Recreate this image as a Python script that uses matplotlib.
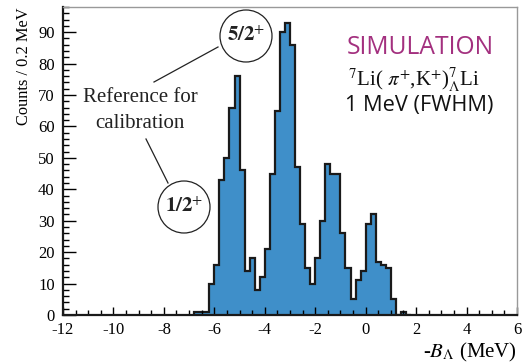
import numpy as np
import matplotlib
matplotlib.use("Agg")
import matplotlib.pyplot as plt
from matplotlib.patches import Circle
from matplotlib.ticker import MultipleLocator

# counts per 0.2 MeV bin, starting at -6.8 MeV
bin_width = 0.2
first_edge = -6.8
counts = [1, 1, 1, 10, 16, 43, 50, 66, 76, 46,
          14, 18, 8, 12, 21, 45, 65, 90, 93, 86,
          47, 29, 15, 10, 18, 30, 48, 45, 45, 26,
          15, 5, 11, 14, 29, 32, 17, 16, 15, 5,
          0, 1, 0]

xticks = [-12, -10, -8, -6, -4, -2, 0, 2, 4, 6]
yticks = [0, 10, 20, 30, 40, 50, 60, 70, 80, 90]

plt.rcParams['font.family'] = ['Liberation Serif', 'DejaVu Serif']
plt.rcParams['mathtext.fontset'] = 'stix'
plt.rcParams['axes.unicode_minus'] = False

fig = plt.figure(figsize=(5.24, 3.63), dpi=100)
ax = fig.add_axes([63/524, 1-315/363, (517-63)/524, (315-7)/363])

edges = first_edge + bin_width * np.arange(len(counts) + 1)
ax.stairs(counts, edges, fill=True, color='#3f8fc9')
ax.stairs(counts, edges, color='#1a1a1a', lw=1.6)

ax.set_xlim(-12, 6)
ax.set_ylim(0, 98)
ax.set_xticks(xticks)
ax.set_yticks(yticks)
ax.xaxis.set_minor_locator(MultipleLocator(0.5))
ax.yaxis.set_minor_locator(MultipleLocator(2))
ax.tick_params(which='both', direction='in', labelsize=12, width=1)
ax.tick_params(axis='x', which='major', length=6, pad=5)
ax.tick_params(axis='x', which='minor', length=3.5)
ax.tick_params(axis='y', which='major', length=9, pad=6)
ax.tick_params(axis='y', which='minor', length=4.5)

for s in ['left', 'bottom']:
    ax.spines[s].set_linewidth(1.6)
    ax.spines[s].set_color('#1a1a1a')
for s in ['top', 'right']:
    ax.spines[s].set_linewidth(1.0)
    ax.spines[s].set_color('#999999')

ax.set_ylabel('Counts / 0.2 MeV', fontsize=11.8)
ax.yaxis.set_label_coords(-0.068, 1.0)
ax.yaxis.label.set_horizontalalignment('right')
ax.set_xlabel(r'-$B_{\Lambda}$ (MeV)', fontsize=15)
ax.xaxis.set_label_coords(1.0, -0.085)
ax.xaxis.label.set_horizontalalignment('right')

# annotation positions in figure pixels (from top-left)
def fx(px):
    return px / 524

def fy(py):
    return 1 - py / 363

fig.text(fx(140), fy(97), 'Reference for', fontsize=15, ha='center', va='center', color='#222222')
fig.text(fx(140), fy(123), 'calibration', fontsize=15, ha='center', va='center', color='#222222')

r = 26
for cx, cy, lab in [(246, 36, r'$\mathbf{5/2}^{+}$'), (184, 207, r'$\mathbf{1/2}^{+}$')]:
    fig.add_artist(Circle((cx, 363 - cy), r, transform=None, fill=False, ec='#222222', lw=0.9))
    fig.text(fx(cx), fy(cy), lab, fontsize=15, ha='center', va='center', color='#222222')

fig.add_artist(plt.Line2D([fx(218), fx(154)], [fy(47), fy(82)], transform=fig.transFigure,
                          color='#222222', lw=0.9))
fig.add_artist(plt.Line2D([fx(146), fx(168)], [fy(139), fy(183)], transform=fig.transFigure,
                          color='#222222', lw=0.9))

fig.text(fx(420), fy(47), 'SIMULATION', fontsize=17.7, family='Open Sans', color='#a3307f',
         ha='center', va='center')
fig.text(fx(414), fy(80), r'$^{7}$Li( $\pi^{+}$,K$^{+}$)$^{7}_{\Lambda}$Li', fontsize=15,
         ha='center', va='center', color='#111111')
fig.text(fx(419), fy(106), '1 MeV (FWHM)', fontsize=15.7, family='Open Sans',
         ha='center', va='center', color='#111111')

fig.savefig('out.png', dpi=100)
